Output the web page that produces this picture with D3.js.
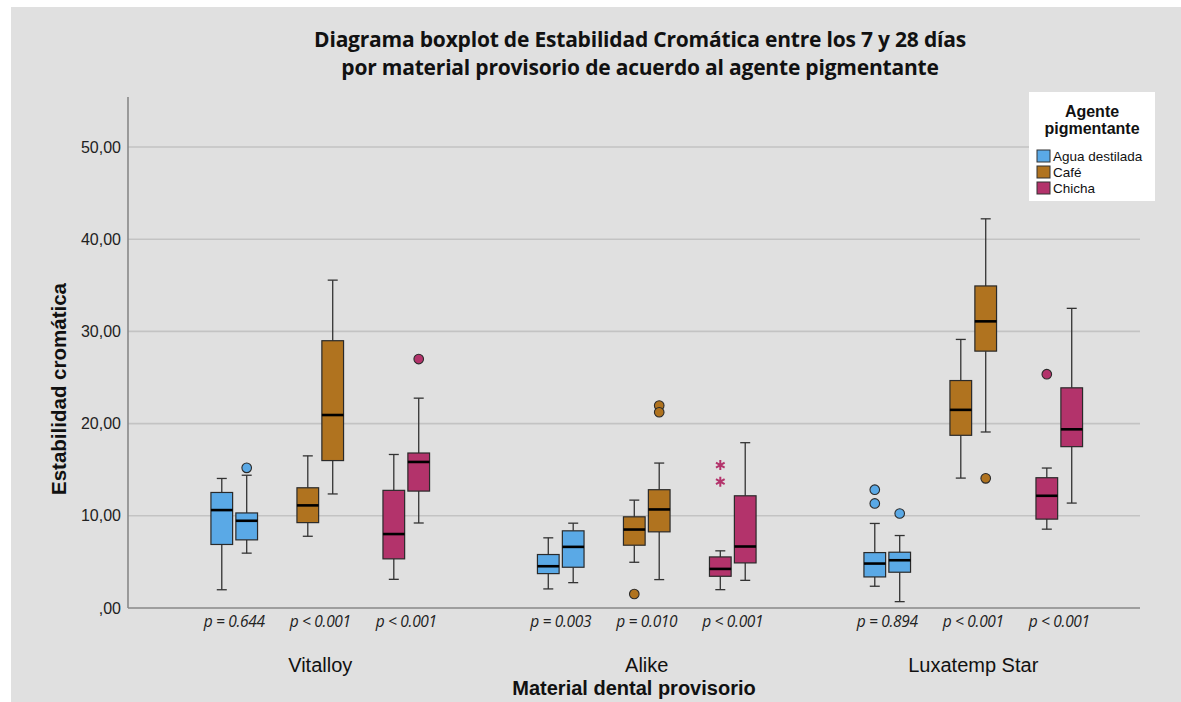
<!DOCTYPE html>
<html>
<head>
<meta charset="utf-8">
<script src="https://cdn.jsdelivr.net/npm/d3@7"></script>
<style>
  html, body { margin: 0; padding: 0; background: #ffffff; }
  svg { display: block; }
</style>
</head>
<body>
<svg id="chart" width="1181" height="702"></svg>
<script>
// ---------------- DATA ----------------
const titleLines = ["Diagrama boxplot de Estabilidad Cromática entre los 7 y 28 días",
                    "por material provisorio de acuerdo al agente pigmentante"];
const materials = ["Vitalloy", "Alike", "Luxatemp Star"];
const agents = ["Agua destilada", "Café", "Chicha"];
const times = ["7 días", "28 días"];
const agentColors = ["#5aa9e6", "#b0731f", "#b3336b"];
const yTicks = [0, 10, 20, 30, 40, 50];
const pLabels = [
  "p = 0.644", "p < 0.001", "p < 0.001",
  "p = 0.003", "p = 0.010", "p < 0.001",
  "p = 0.894", "p < 0.001", "p < 0.001"
];
// 18 boxes, order: material > agent > time
const boxMaterial = ["Vitalloy","Vitalloy","Vitalloy","Vitalloy","Vitalloy","Vitalloy",
                     "Alike","Alike","Alike","Alike","Alike","Alike",
                     "Luxatemp Star","Luxatemp Star","Luxatemp Star","Luxatemp Star","Luxatemp Star","Luxatemp Star"];
const boxAgent = ["Agua destilada","Agua destilada","Café","Café","Chicha","Chicha",
                  "Agua destilada","Agua destilada","Café","Café","Chicha","Chicha",
                  "Agua destilada","Agua destilada","Café","Café","Chicha","Chicha"];
const boxTime = ["7 días","28 días","7 días","28 días","7 días","28 días",
                 "7 días","28 días","7 días","28 días","7 días","28 días",
                 "7 días","28 días","7 días","28 días","7 días","28 días"];
const whiskerLow  = [1.98, 5.95, 7.78, 12.37, 3.11, 9.22,  2.07, 2.75, 4.96, 3.08, 1.99, 3.00,  2.36, 0.69, 14.09, 19.09, 8.55, 11.38];
const q1Values    = [6.89, 7.39, 9.26, 15.99, 5.33, 12.68, 3.73, 4.42, 6.81, 8.26, 3.44, 4.89,  3.37, 3.88, 18.73, 27.86, 9.64, 17.50];
const medianVals  = [10.62, 9.46, 11.13, 20.93, 8.02, 15.84, 4.53, 6.63, 8.51, 10.69, 4.24, 6.67, 4.82, 5.18, 21.49, 31.09, 12.17, 19.38];
const q3Values    = [12.53, 10.31, 13.04, 28.99, 12.76, 16.81, 5.80, 8.37, 9.89, 12.83, 5.54, 12.17, 6.01, 6.05, 24.67, 34.93, 14.13, 23.88];
const whiskerHigh = [14.05, 14.40, 16.50, 35.56, 16.65, 22.76, 7.61, 9.20, 11.70, 15.72, 6.20, 17.93, 9.17, 7.86, 29.13, 42.21, 15.18, 32.50];
// outliers: box index, value, kind ("o" = outlier circle, "*" = extreme)
const outlierBox   = [1, 5, 8, 9, 9, 10, 10, 12, 12, 13, 15, 16];
const outlierValue = [15.2, 27.0, 1.52, 21.96, 21.23, 15.5, 13.7, 12.83, 11.34, 10.25, 14.06, 25.36];
const outlierKind  = ["o","o","o","o","o","*","*","o","o","o","o","o"];

// ---------------- LAYOUT ----------------
const svg = d3.select("#chart");
const W = 1181, H = 702;
const plotLeft = 128, plotRight = 1140, plotTop = 97, plotBottom = 608;

svg.append("rect").attr("x", 11).attr("y", 7).attr("width", W - 11).attr("height", H - 7).attr("fill", "#e0e0e0");

const y = d3.scaleLinear().domain([0, 50]).range([plotBottom, 147]);
const x0 = d3.scaleBand().domain(materials).range([157, 1136.5]);
const x1 = d3.scaleBand().domain(agents).range([0, x0.bandwidth()]).paddingInner(0).paddingOuter(0.398);
const pairHalf = 23.3;
const x2 = d3.scaleBand().domain(times).range([x1.bandwidth() / 2 - pairHalf, x1.bandwidth() / 2 + pairHalf]).paddingInner(0.13);

const locale = d3.formatLocale({decimal: ",", thousands: ".", grouping: [3], currency: ["", ""]});
const fmt = v => locale.format(".2f")(v).replace(/^0,/, ",");

// gridlines
svg.append("g").selectAll("line").data(yTicks.filter(d => d > 0)).join("line")
  .attr("x1", plotLeft).attr("x2", plotRight)
  .attr("y1", d => y(d)).attr("y2", d => y(d))
  .attr("stroke", "#c3c3c3").attr("stroke-width", 1.6);

// y axis
const yAxis = d3.axisLeft(y).tickValues(yTicks).tickFormat(fmt).tickSize(0).tickPadding(7);
const gy = svg.append("g").attr("transform", `translate(${plotLeft},0)`).call(yAxis);
gy.select(".domain").remove();
gy.selectAll("text").attr("font-family", "Liberation Sans, Arial, sans-serif").attr("font-size", 16).attr("fill", "#222");
svg.append("line").attr("x1", plotLeft).attr("x2", plotLeft).attr("y1", plotTop).attr("y2", plotBottom)
  .attr("stroke", "#888").attr("stroke-width", 1.6);
svg.append("line").attr("x1", plotLeft).attr("x2", plotRight).attr("y1", plotBottom).attr("y2", plotBottom)
  .attr("stroke", "#888").attr("stroke-width", 1.6);

// x axis category labels
const xAxis = d3.axisBottom(x0).tickSize(0).tickPadding(0);
const gx = svg.append("g").attr("transform", `translate(0,${plotBottom + 50})`).call(xAxis);
gx.select(".domain").remove();
gx.selectAll("text").attr("font-family", "Liberation Sans, Arial, sans-serif")
  .attr("font-size", 20).attr("fill", "#111").attr("dy", "0.71em");

// boxes
const boxes = d3.range(whiskerLow.length).map(i => ({
  i, m: boxMaterial[i], a: boxAgent[i], t: boxTime[i],
  lo: whiskerLow[i], q1: q1Values[i], med: medianVals[i], q3: q3Values[i], hi: whiskerHigh[i],
  color: agentColors[agents.indexOf(boxAgent[i])]
}));
const bw = x2.bandwidth();
const bx = d => x0(d.m) + x1(d.a) + x2(d.t);
const capW = 10;

const gb = svg.append("g").selectAll("g").data(boxes).join("g");
gb.append("line").attr("x1", d => bx(d) + bw / 2).attr("x2", d => bx(d) + bw / 2)
  .attr("y1", d => y(d.hi)).attr("y2", d => y(d.q3)).attr("stroke", "#333").attr("stroke-width", 1.3);
gb.append("line").attr("x1", d => bx(d) + bw / 2).attr("x2", d => bx(d) + bw / 2)
  .attr("y1", d => y(d.q1)).attr("y2", d => y(d.lo)).attr("stroke", "#333").attr("stroke-width", 1.3);
gb.append("line").attr("x1", d => bx(d) + bw / 2 - capW / 2).attr("x2", d => bx(d) + bw / 2 + capW / 2)
  .attr("y1", d => y(d.hi)).attr("y2", d => y(d.hi)).attr("stroke", "#333").attr("stroke-width", 1.3);
gb.append("line").attr("x1", d => bx(d) + bw / 2 - capW / 2).attr("x2", d => bx(d) + bw / 2 + capW / 2)
  .attr("y1", d => y(d.lo)).attr("y2", d => y(d.lo)).attr("stroke", "#333").attr("stroke-width", 1.3);
gb.append("rect").attr("x", d => bx(d)).attr("width", bw)
  .attr("y", d => y(d.q3)).attr("height", d => y(d.q1) - y(d.q3))
  .attr("fill", d => d.color).attr("stroke", "#2a2a2a").attr("stroke-width", 1.2);
gb.append("line").attr("x1", d => bx(d)).attr("x2", d => bx(d) + bw)
  .attr("y1", d => y(d.med)).attr("y2", d => y(d.med)).attr("stroke", "#000").attr("stroke-width", 2.6);

// outliers
const outs = outlierBox.map((b, k) => ({b: boxes[b], v: outlierValue[k], kind: outlierKind[k]}));
svg.append("g").selectAll("circle").data(outs.filter(d => d.kind === "o")).join("circle")
  .attr("cx", d => bx(d.b) + bw / 2).attr("cy", d => y(d.v)).attr("r", 4.8)
  .attr("fill", d => d.b.color).attr("stroke", "#2a2a2a").attr("stroke-width", 1.1);
svg.append("g").selectAll("path").data(outs.filter(d => d.kind === "*")).join("path")
  .attr("transform", d => `translate(${bx(d.b) + bw / 2},${y(d.v)})`)
  .attr("d", d3.symbol(d3.symbolAsterisk, 70))
  .attr("fill", "none").attr("stroke", d => d.b.color).attr("stroke-width", 2);

// p labels
const pData = [];
materials.forEach((m, mi) => agents.forEach((a, ai) => pData.push({m, a, label: pLabels[mi * 3 + ai]})));
svg.append("g").selectAll("text").data(pData).join("text")
  .attr("x", d => x0(d.m) + x1(d.a) + x1.bandwidth() / 2)
  .attr("y", plotBottom + 19)
  .attr("text-anchor", "middle")
  .attr("font-family", "Open Sans, sans-serif").attr("font-style", "italic")
  .attr("font-size", 15.5).attr("letter-spacing", -0.3).attr("fill", "#222")
  .text(d => d.label);

// axis titles
svg.append("text").attr("x", 634).attr("y", 695)
  .attr("text-anchor", "middle").attr("font-family", "Liberation Sans, Arial, sans-serif")
  .attr("font-weight", "bold").attr("font-size", 20).attr("fill", "#111").text("Material dental provisorio");
svg.append("text").attr("transform", `translate(66,389) rotate(-90)`)
  .attr("text-anchor", "middle").attr("font-family", "Liberation Sans, Arial, sans-serif")
  .attr("font-weight", "bold").attr("font-size", 20.5).attr("fill", "#111").text("Estabilidad cromática");

// title
svg.append("g").selectAll("text").data(titleLines).join("text")
  .attr("x", 640).attr("y", (d, i) => 47 + i * 28)
  .attr("text-anchor", "middle").attr("font-family", "Open Sans, sans-serif")
  .attr("font-weight", "bold").attr("font-size", 21).attr("letter-spacing", -0.2).attr("fill", "#111").text(d => d);

// legend
const lg = svg.append("g").attr("transform", "translate(1029,92)");
lg.append("rect").attr("width", 126).attr("height", 109).attr("fill", "#fff");
lg.append("text").attr("x", 63).attr("y", 25).attr("text-anchor", "middle")
  .attr("font-family", "Liberation Sans, Arial, sans-serif").attr("font-weight", "bold").attr("font-size", 16).attr("fill", "#111")
  .selectAll("tspan").data(["Agente", "pigmentante"]).join("tspan")
  .attr("x", 63).attr("dy", (d, i) => i === 0 ? 0 : 17).text(d => d);
const li = lg.selectAll("g.item").data(agents).join("g").attr("class", "item")
  .attr("transform", (d, i) => `translate(8,${58 + i * 16})`);
li.append("rect").attr("width", 13).attr("height", 12).attr("fill", (d, i) => agentColors[i])
  .attr("stroke", "#333").attr("stroke-width", 1);
li.append("text").attr("x", 16).attr("y", 10.5).attr("font-family", "Liberation Sans, Arial, sans-serif")
  .attr("font-size", 13.5).attr("fill", "#111").text(d => d);
</script>
</body>
</html>
